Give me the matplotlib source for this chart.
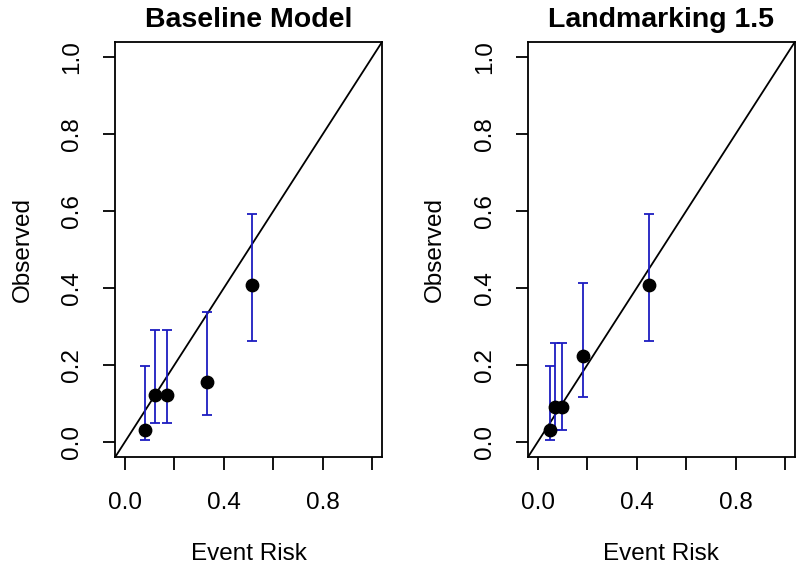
import matplotlib
matplotlib.use("Agg")
import matplotlib.pyplot as plt
import numpy as np

plt.rcParams['font.family'] = ['Liberation Sans', 'DejaVu Sans']

titles = ["Baseline Model", "Landmarking 1.5"]
base_x = [0.081, 0.122, 0.168, 0.331, 0.512]
base_y = [0.030, 0.122, 0.122, 0.156, 0.407]
base_lo = [0.004, 0.048, 0.048, 0.069, 0.261]
base_hi = [0.197, 0.291, 0.291, 0.337, 0.593]
lm_x = [0.050, 0.070, 0.098, 0.184, 0.450]
lm_y = [0.030, 0.091, 0.091, 0.223, 0.407]
lm_lo = [0.004, 0.030, 0.030, 0.115, 0.261]
lm_hi = [0.197, 0.258, 0.258, 0.413, 0.593]
panels = [(base_x, base_y, base_lo, base_hi), (lm_x, lm_y, lm_lo, lm_hi)]

xticks = [0.0, 0.2, 0.4, 0.6, 0.8, 1.0]
xticklabels = ["0.0", "", "0.4", "", "0.8", ""]
yticks = [0.0, 0.2, 0.4, 0.6, 0.8, 1.0]
yticklabels = ["0.0", "0.2", "0.4", "0.6", "0.8", "1.0"]

fig = plt.figure(figsize=(8, 5.73), dpi=100)
rects = [[0.144, 0.2024, 0.3335, 0.7243], [0.66, 0.2024, 0.3335, 0.7243]]
for rect, title, (x, y, lo, hi) in zip(rects, titles, panels):
    ax = fig.add_axes(rect)
    ax.set_xlim(-0.04, 1.04)
    ax.set_ylim(-0.04, 1.04)
    ax.plot([-0.04, 1.04], [-0.04, 1.04], color='black', lw=1.3)
    x = np.array(x); y = np.array(y)
    yerr = np.array([y - np.array(lo), np.array(hi) - y])
    ax.errorbar(x, y, yerr=yerr, fmt='none', ecolor='#1c1cc0', elinewidth=1.3,
                capsize=3.5, capthick=1.3, zorder=2)
    ax.scatter(x, y, s=80, color='black', zorder=3)
    for s in ax.spines.values():
        s.set_linewidth(1.3)
    ax.set_xticks(xticks)
    ax.set_xticklabels(xticklabels)
    ax.set_yticks(yticks)
    ax.set_yticklabels(yticklabels, rotation=90, va='center')
    ax.tick_params(direction='out', length=9, width=1.3, labelsize=17.5)
    ax.tick_params(axis='x', pad=16)
    ax.tick_params(axis='y', pad=14)
    ax.set_xlabel("Event Risk", fontsize=17.5, labelpad=21)
    ax.set_ylabel("Observed", fontsize=17.5, labelpad=20)
    ax.set_title(title, fontsize=20.5, fontweight='bold', pad=11)

fig.savefig("out.png", dpi=100)
